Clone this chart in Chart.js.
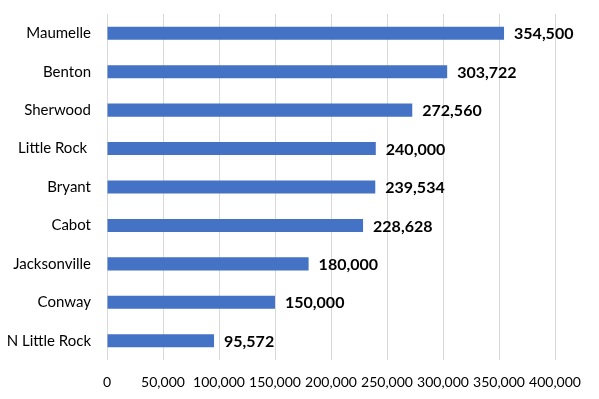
<!DOCTYPE html>
<html>
<head>
<meta charset="utf-8">
<script src="https://cdn.jsdelivr.net/npm/chart.js@4/dist/chart.umd.min.js"></script>
<style>
html,body{margin:0;padding:0;background:#fff;}
#wrap{width:599px;height:399px;}
</style>
</head>
<body>
<div id="wrap"><canvas id="c" width="599" height="399"></canvas></div>
<script>
const cities = ["Maumelle","Benton","Sherwood","Little Rock ","Bryant","Cabot","Jacksonville","Conway","N Little Rock"];
const values = [354500,303722,272560,240000,239534,228628,180000,150000,95572];
const xTicks = [0,50000,100000,150000,200000,250000,300000,350000,400000];

const fmt = v => v.toLocaleString('en-US');

const valueLabels = {
  id:'valueLabels',
  afterDatasetsDraw(chart){
    const ctx = chart.ctx;
    const meta = chart.getDatasetMeta(0);
    ctx.save();
    ctx.font = 'bold 16px Lato';
    ctx.fillStyle = '#000';
    ctx.textAlign = 'left';
    ctx.textBaseline = 'middle';
    meta.data.forEach((bar,i)=>{
      ctx.fillText(fmt(values[i]), bar.x + 10, bar.y + 1);
    });
    ctx.restore();
  }
};

new Chart(document.getElementById('c'),{
  type:'bar',
  data:{labels:cities,datasets:[{data:values,backgroundColor:'#4472C4',borderWidth:0,categoryPercentage:1,barPercentage:0.34}]},
  options:{
    indexAxis:'y',
    responsive:false,
    animation:false,
    layout:{padding:{top:14,right:44,left:0,bottom:0}},
    plugins:{legend:{display:false},tooltip:{enabled:false}},
    scales:{
      x:{
        min:0,max:400000,
        afterBuildTicks(s){s.ticks = xTicks.map(v=>({value:v}));},
        afterFit(s){s.height = 39; s.paddingTop = 0; s.paddingBottom = 0;},
        grid:{color:'#d9d9d9',drawTicks:false,lineWidth:1},
        border:{display:false},
        ticks:{font:{family:'Lato',size:14},color:'#000',padding:14,maxRotation:0,callback:v=>fmt(v)}
      },
      y:{
        afterFit(s){s.width = 107; s.paddingTop = 0; s.paddingBottom = 0;},
        grid:{display:false,drawTicks:false},
        border:{display:false},
        ticks:{font:{family:'Lato',size:15},color:'#000',padding:16}
      }
    }
  },
  plugins:[valueLabels]
});
</script>
</body>
</html>
